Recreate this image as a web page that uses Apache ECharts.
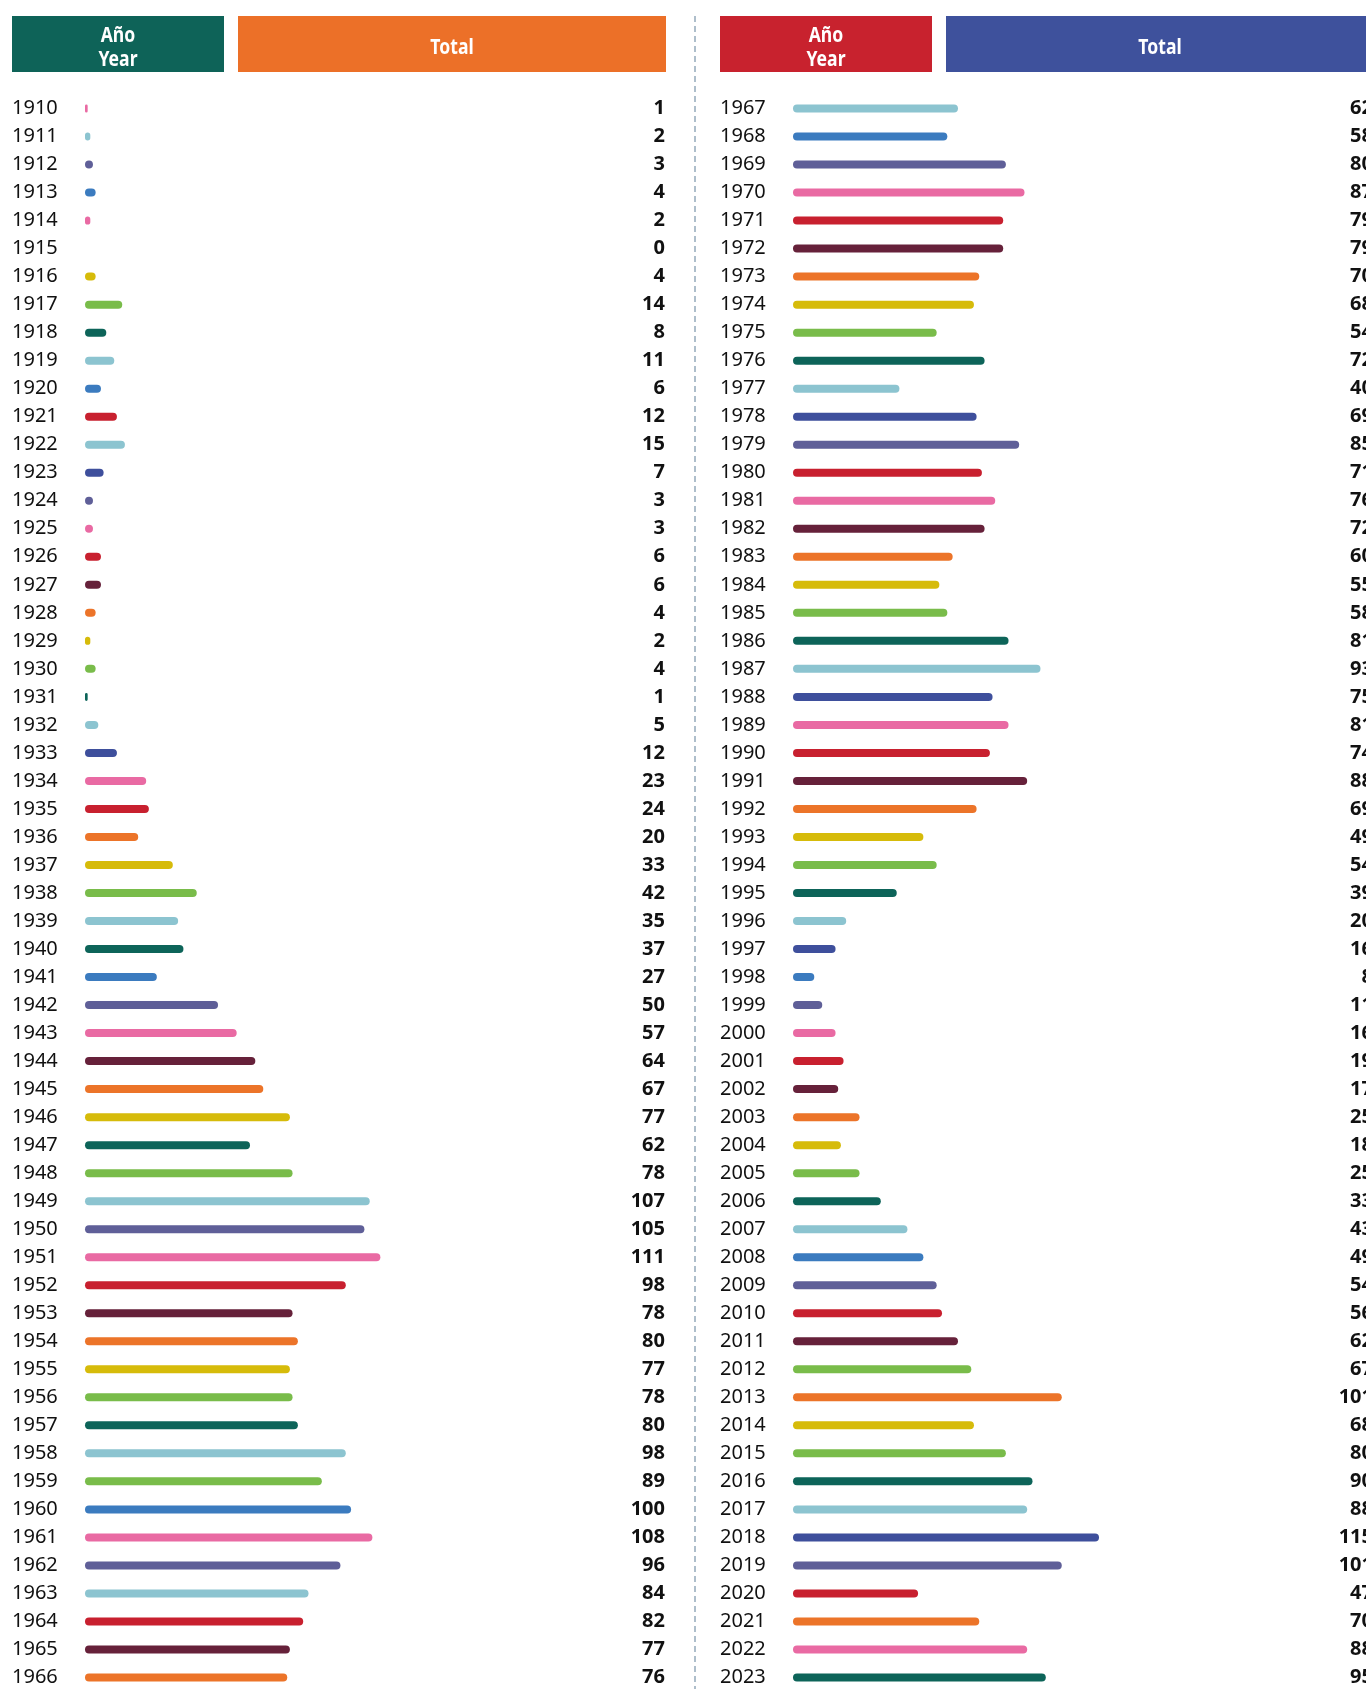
<!DOCTYPE html>
<html lang="es">
<head>
    <meta charset="UTF-8">
    <title>Año / Year - Total</title>
    <script src="https://cdn.jsdelivr.net/npm/echarts@6/dist/echarts.min.js"></script>
    <style>
        html, body { margin: 0; padding: 0; background: #fff; overflow: hidden; }
        #main { width: 1366px; height: 1689px; }
    </style>
</head>
<body>
<div id="main"></div>
<script>
    // datos: columna izquierda 1910-1966, columna derecha 1967-2023
    var yearsLeft = ['1910','1911','1912','1913','1914','1915','1916','1917','1918','1919',
        '1920','1921','1922','1923','1924','1925','1926','1927','1928','1929',
        '1930','1931','1932','1933','1934','1935','1936','1937','1938','1939',
        '1940','1941','1942','1943','1944','1945','1946','1947','1948','1949',
        '1950','1951','1952','1953','1954','1955','1956','1957','1958','1959',
        '1960','1961','1962','1963','1964','1965','1966'];
    var totalsLeft = [1, 2, 3, 4, 2, 0, 4, 14, 8, 11,
        6, 12, 15, 7, 3, 3, 6, 6, 4, 2,
        4, 1, 5, 12, 23, 24, 20, 33, 42, 35,
        37, 27, 50, 57, 64, 67, 77, 62, 78, 107,
        105, 111, 98, 78, 80, 77, 78, 80, 98, 89,
        100, 108, 96, 84, 82, 77, 76];

    var yearsRight = ['1967','1968','1969','1970','1971','1972','1973','1974','1975','1976',
        '1977','1978','1979','1980','1981','1982','1983','1984','1985','1986',
        '1987','1988','1989','1990','1991','1992','1993','1994','1995','1996',
        '1997','1998','1999','2000','2001','2002','2003','2004','2005','2006',
        '2007','2008','2009','2010','2011','2012','2013','2014','2015','2016',
        '2017','2018','2019','2020','2021','2022','2023'];
    var totalsRight = [62, 58, 80, 87, 79, 79, 70, 68, 54, 72,
        40, 69, 85, 71, 76, 72, 60, 55, 58, 81,
        93, 75, 81, 74, 88, 69, 49, 54, 39, 20,
        16, 8, 11, 16, 19, 17, 25, 18, 25, 33,
        43, 49, 54, 56, 62, 67, 101, 68, 80, 90,
        88, 115, 101, 47, 70, 88, 95];

    // colores de cada barra
    var palette = {
        teal: '#0d6459', lblue: '#8cc4d0', blue: '#3b7bbf', navy: '#3e4f9c',
        purple: '#5f5f98', pink: '#e96aa3', red: '#c8202f', maroon: '#66213a',
        orange: '#ec7429', yellow: '#d6bb0a', green: '#79bc4a'
    };
    var colorsLeft = ['pink','lblue','purple','blue','pink','red','yellow','green','teal','lblue',
        'blue','red','lblue','navy','purple','pink','red','maroon','orange','yellow',
        'green','teal','lblue','navy','pink','red','orange','yellow','green','lblue',
        'teal','blue','purple','pink','maroon','orange','yellow','teal','green','lblue',
        'purple','pink','red','maroon','orange','yellow','green','teal','lblue','green',
        'blue','pink','purple','lblue','red','maroon','orange'];
    var colorsRight = ['lblue','blue','purple','pink','red','maroon','orange','yellow','green','teal',
        'lblue','navy','purple','red','pink','maroon','orange','yellow','green','teal',
        'lblue','navy','pink','red','maroon','orange','yellow','green','teal','lblue',
        'navy','blue','purple','pink','red','maroon','orange','yellow','green','teal',
        'lblue','blue','purple','red','maroon','green','orange','yellow','green','teal',
        'lblue','navy','purple','red','orange','pink','teal'];

    var xMax = 120;
    var pxPerUnit = 2.661;
    var gridW = xMax * pxPerUnit;
    var colShift = 708;
    var labelFont = '"Noto Sans", "Liberation Sans", sans-serif';
    var headFont = '"Noto Sans", "Liberation Sans", sans-serif';

    function barData(vals, cols) {
        return vals.map(function (v, i) {
            return { value: v, itemStyle: { color: palette[cols[i]] } };
        });
    }

    // cabecera: rectángulo de color + texto blanco estrechado
    function header(x, w, color, txt) {
        return [
            { type: 'rect', shape: { x: x, y: 16, width: w, height: 56 }, style: { fill: color } },
            { type: 'text', x: x + w / 2, y: 48, scaleX: 0.8, style: {
                text: txt, fill: '#fff', align: 'center', verticalAlign: 'middle',
                fontFamily: headFont, fontWeight: 'bold', fontSize: 22, lineHeight: 24
            } }
        ];
    }

    var grids = [], xAxes = [], yAxes = [], series = [];
    [[yearsLeft, totalsLeft, colorsLeft], [yearsRight, totalsRight, colorsRight]].forEach(function (col, k) {
        var years = col[0], totals = col[1];
        grids.push({ left: 85 + k * colShift, top: 94.5, width: gridW, height: 1597, outerBoundsMode: 'none', containLabel: false });
        xAxes.push({ gridIndex: k, type: 'value', min: 0, max: xMax, show: false });
        yAxes.push({
            gridIndex: k, type: 'category', data: years, inverse: true, position: 'left',
            axisLine: { show: false }, axisTick: { show: false },
            axisLabel: { align: 'left', margin: 73, fontSize: 20, color: '#111', fontFamily: labelFont, padding: [7, 0, 0, 0] }
        });
        yAxes.push({
            gridIndex: k, type: 'category', data: years, inverse: true, position: 'right',
            axisLine: { show: false }, axisTick: { show: false },
            axisLabel: {
                align: 'right', margin: 665 - 85 - gridW, fontSize: 20, fontWeight: 'bold',
                color: '#111', fontFamily: labelFont, padding: [7, 0, 0, 0],
                formatter: function (v, i) { return String(totals[i]); }
            }
        });
        series.push({
            type: 'bar', xAxisIndex: k, yAxisIndex: k * 2, barWidth: 8,
            itemStyle: { borderRadius: 4 },
            data: barData(totals, col[2]),
            silent: true
        });
    });

    var graphics = []
        .concat(header(12, 212, '#0e6358', 'Año\nYear'))
        .concat(header(238, 428, '#ec7028', 'Total'))
        .concat(header(720, 212, '#c8222e', 'Año\nYear'))
        .concat(header(946, 428, '#3e519c', 'Total'));
    graphics.push({
        type: 'line', shape: { x1: 695, y1: 16, x2: 695, y2: 1689 },
        style: { stroke: '#94a9ba', lineWidth: 1.5, lineDash: [6, 4] }
    });

    var myChart = echarts.init(document.getElementById('main'));
    myChart.setOption({
        backgroundColor: '#fff',
        animation: false,
        grid: grids,
        xAxis: xAxes,
        yAxis: yAxes,
        series: series,
        graphic: graphics
    });
</script>
</body>
</html>
